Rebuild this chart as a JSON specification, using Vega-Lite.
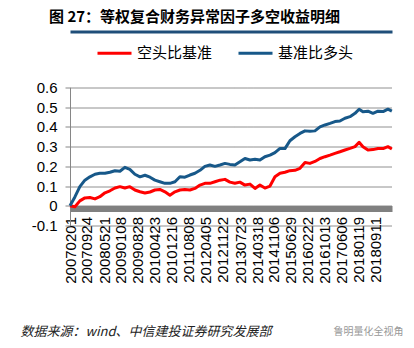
{
  "$schema": "https://vega.github.io/schema/vega-lite/v6.json",
  "width": 322,
  "height": 138,
  "autosize": "none",
  "padding": {"left": 70, "top": 87.5, "right": 22, "bottom": 122.5},
  "background": "white",
  "config": {"view": {"stroke": null}},
  "title": {
    "text": "图 27：等权复合财务异常因子多空收益明细",
    "anchor": "start",
    "frame": "group",
    "dx": -21,
    "offset": 7,
    "font": "Noto Sans CJK SC",
    "fontSize": 15,
    "fontWeight": "bold",
    "color": "#000"
  },
  "data": {
    "values": [
      {"date": "2007-02-01", "空头比基准": 0, "基准比多头": 0},
      {"date": "2007-04-10", "空头比基准": -0.005, "基准比多头": 0.045},
      {"date": "2007-06-18", "空头比基准": 0.025, "基准比多头": 0.097},
      {"date": "2007-08-27", "空头比基准": 0.04, "基准比多头": 0.13},
      {"date": "2007-11-05", "空头比基准": 0.042, "基准比多头": 0.147},
      {"date": "2008-01-14", "空头比基准": 0.035, "基准比多头": 0.16},
      {"date": "2008-03-22", "空头比基准": 0.046, "基准比多头": 0.165},
      {"date": "2008-06-01", "空头比基准": 0.066, "基准比多头": 0.165},
      {"date": "2008-08-09", "空头比基准": 0.076, "基准比多头": 0.17},
      {"date": "2008-10-18", "空头比基准": 0.09, "基准比多头": 0.178},
      {"date": "2008-12-26", "空头比基准": 0.097, "基准比多头": 0.175},
      {"date": "2009-03-05", "空头比基准": 0.09, "基准比多头": 0.195},
      {"date": "2009-05-13", "空头比基准": 0.097, "基准比多头": 0.185},
      {"date": "2009-07-22", "空头比基准": 0.08, "基准比多头": 0.16},
      {"date": "2009-10-01", "空头比基准": 0.071, "基准比多头": 0.147},
      {"date": "2009-12-09", "空头比基准": 0.065, "基准比多头": 0.155},
      {"date": "2010-02-17", "空头比基准": 0.07, "基准比多头": 0.145},
      {"date": "2010-04-26", "空头比基准": 0.08, "基准比多头": 0.13},
      {"date": "2010-07-04", "空头比基准": 0.083, "基准比多头": 0.122},
      {"date": "2010-09-13", "空头比基准": 0.071, "基准比多头": 0.114},
      {"date": "2010-11-21", "空头比基准": 0.054, "基准比多头": 0.114},
      {"date": "2011-01-30", "空头比基准": 0.071, "基准比多头": 0.122},
      {"date": "2011-04-09", "空头比基准": 0.08, "基准比多头": 0.147},
      {"date": "2011-06-17", "空头比基准": 0.083, "基准比多头": 0.145},
      {"date": "2011-08-26", "空头比基准": 0.08, "基准比多头": 0.156},
      {"date": "2011-11-04", "空头比基准": 0.088, "基准比多头": 0.165},
      {"date": "2012-01-13", "空头比基准": 0.105, "基准比多头": 0.18},
      {"date": "2012-03-21", "空头比基准": 0.114, "基准比多头": 0.2},
      {"date": "2012-05-30", "空头比基准": 0.114, "基准比多头": 0.207},
      {"date": "2012-08-08", "空头比基准": 0.122, "基准比多头": 0.2},
      {"date": "2012-10-17", "空头比基准": 0.13, "基准比多头": 0.207},
      {"date": "2012-12-25", "空头比基准": 0.134, "基准比多头": 0.215},
      {"date": "2013-03-04", "空头比基准": 0.12, "基准比多头": 0.21},
      {"date": "2013-05-12", "空头比基准": 0.114, "基准比多头": 0.207},
      {"date": "2013-07-21", "空头比基准": 0.12, "基准比多头": 0.223},
      {"date": "2013-09-29", "空头比基准": 0.105, "基准比多头": 0.24},
      {"date": "2013-12-08", "空头比基准": 0.11, "基准比多头": 0.232},
      {"date": "2014-02-16", "空头比基准": 0.088, "基准比多头": 0.236},
      {"date": "2014-04-25", "空头比基准": 0.105, "基准比多头": 0.232},
      {"date": "2014-07-03", "空头比基准": 0.09, "基准比多头": 0.249},
      {"date": "2014-09-12", "空头比基准": 0.1, "基准比多头": 0.257},
      {"date": "2014-11-20", "空头比基准": 0.147, "基准比多头": 0.27},
      {"date": "2015-01-29", "空头比基准": 0.165, "基准比多头": 0.291},
      {"date": "2015-04-08", "空头比基准": 0.17, "基准比多头": 0.29},
      {"date": "2015-06-16", "空头比基准": 0.178, "基准比多头": 0.33},
      {"date": "2015-08-25", "空头比基准": 0.18, "基准比多头": 0.35},
      {"date": "2015-11-03", "空头比基准": 0.19, "基准比多头": 0.367},
      {"date": "2016-01-12", "空头比基准": 0.22, "基准比多头": 0.38},
      {"date": "2016-03-20", "空头比基准": 0.215, "基准比多头": 0.378},
      {"date": "2016-05-29", "空头比基准": 0.225, "基准比多头": 0.38},
      {"date": "2016-08-07", "空头比基准": 0.24, "基准比多头": 0.4},
      {"date": "2016-10-16", "空头比基准": 0.249, "基准比多头": 0.41},
      {"date": "2016-12-24", "空头比基准": 0.257, "基准比多头": 0.418},
      {"date": "2017-03-03", "空头比基准": 0.266, "基准比多头": 0.427},
      {"date": "2017-05-11", "空头比基准": 0.274, "基准比多头": 0.43},
      {"date": "2017-07-20", "空头比基准": 0.283, "基准比多头": 0.444},
      {"date": "2017-09-28", "空头比基准": 0.291, "基准比多头": 0.452},
      {"date": "2017-12-07", "空头比基准": 0.3, "基准比多头": 0.469},
      {"date": "2018-02-02", "空头比基准": 0.322, "基准比多头": 0.49},
      {"date": "2018-03-27", "空头比基准": 0.3, "基准比多头": 0.477},
      {"date": "2018-06-05", "空头比基准": 0.283, "基准比多头": 0.48},
      {"date": "2018-08-13", "空头比基准": 0.285, "基准比多头": 0.469},
      {"date": "2018-10-22", "空头比基准": 0.291, "基准比多头": 0.48},
      {"date": "2019-01-01", "空头比基准": 0.29, "基准比多头": 0.478},
      {"date": "2019-03-09", "空头比基准": 0.3, "基准比多头": 0.49},
      {"date": "2019-05-03", "空头比基准": 0.288, "基准比多头": 0.48}
    ]
  },
  "layer": [
    {
      "mark": {"type": "line", "strokeWidth": 3, "strokeJoin": "round"},
      "encoding": {
        "x": {
          "field": "date",
          "type": "temporal",
          "scale": {
            "type": "utc",
            "nice": false,
            "domain": [
              {"year": 2007, "month": 2, "date": 1, "utc": true},
              {"year": 2019, "month": 5, "date": 5, "utc": true}
            ]
          },
          "axis": {
            "orient": "bottom",
            "values": [
              {"year": 2007, "month": 2, "date": 1, "utc": true},
              {"year": 2007, "month": 9, "date": 24, "utc": true},
              {"year": 2008, "month": 5, "date": 21, "utc": true},
              {"year": 2009, "month": 1, "date": 8, "utc": true},
              {"year": 2009, "month": 8, "date": 28, "utc": true},
              {"year": 2010, "month": 4, "date": 23, "utc": true},
              {"year": 2010, "month": 12, "date": 16, "utc": true},
              {"year": 2011, "month": 8, "date": 8, "utc": true},
              {"year": 2012, "month": 4, "date": 5, "utc": true},
              {"year": 2012, "month": 11, "date": 22, "utc": true},
              {"year": 2013, "month": 7, "date": 23, "utc": true},
              {"year": 2014, "month": 3, "date": 18, "utc": true},
              {"year": 2014, "month": 11, "date": 6, "utc": true},
              {"year": 2015, "month": 6, "date": 29, "utc": true},
              {"year": 2016, "month": 2, "date": 22, "utc": true},
              {"year": 2016, "month": 10, "date": 13, "utc": true},
              {"year": 2017, "month": 6, "date": 6, "utc": true},
              {"year": 2018, "month": 1, "date": 19, "utc": true},
              {"year": 2018, "month": 9, "date": 11, "utc": true}
            ],
            "format": "%Y%m%d",
            "labelAngle": -90,
            "labelFont": "Liberation Sans",
            "labelFontSize": 15,
            "labelColor": "#000",
            "labelPadding": 8,
            "labelOverlap": false,
            "labelBound": false,
            "labelFlush": false,
            "ticks": false,
            "grid": false,
            "domainColor": "#808080",
            "domainWidth": 6,
            "offset": -17,
            "title": "数据来源：wind、中信建投证券研究发展部",
            "titleFont": "Noto Sans CJK SC",
            "titleFontSize": 13,
            "titleFontStyle": "italic",
            "titleFontWeight": "normal",
            "titleColor": "#222",
            "titleAlign": "left",
            "titleAnchor": "start",
            "titleBaseline": "middle",
            "titleX": -50,
            "titleY": 122.5
          }
        },
        "y": {
          "field": "空头比基准",
          "type": "quantitative",
          "scale": {"domain": [-0.1, 0.6], "nice": false, "zero": false},
          "axis": {
            "values": [-0.1, 0, 0.1, 0.2, 0.3, 0.4, 0.5, 0.6],
            "labelExpr": "toString(round(datum.value*10)/10)",
            "labelFont": "Liberation Sans",
            "labelFontSize": 15,
            "labelColor": "#000",
            "labelPadding": 8,
            "tickColor": "#868686",
            "tickSize": 5,
            "domainColor": "#868686",
            "grid": true,
            "gridColor": "#222",
            "gridDash": [1, 1],
            "gridWidth": 1,
            "title": "鲁明量化全视角",
            "titleAngle": 0,
            "titleX": 263,
            "titleY": 243.5,
            "titleAlign": "left",
            "titleBaseline": "middle",
            "titleFont": "Noto Sans CJK SC",
            "titleFontSize": 10,
            "titleFontWeight": "normal",
            "titleColor": "#999"
          }
        },
        "color": {
          "datum": "空头比基准",
          "type": "nominal",
          "scale": {"domain": ["空头比基准", "基准比多头"], "range": ["#FF0000", "#175889"]},
          "legend": {
            "orient": "none",
            "legendX": 26,
            "legendY": -53,
            "direction": "horizontal",
            "title": null,
            "symbolType": "stroke",
            "symbolSize": 1156,
            "symbolStrokeWidth": 3,
            "labelFont": "Noto Sans CJK SC",
            "labelFontSize": 15,
            "labelColor": "#000",
            "labelOffset": 4,
            "columnPadding": 19
          }
        }
      }
    },
    {
      "mark": {"type": "line", "strokeWidth": 3, "strokeJoin": "round"},
      "encoding": {
        "x": {
          "field": "date",
          "type": "temporal",
          "axis": {
            "orient": "top",
            "labels": false,
            "ticks": false,
            "grid": false,
            "title": null,
            "domainColor": "#1F4E79",
            "domainWidth": 3,
            "offset": 56
          }
        },
        "y": {"field": "基准比多头", "type": "quantitative", "axis": null},
        "color": {"datum": "基准比多头", "type": "nominal"}
      }
    }
  ],
  "resolve": {"axis": {"x": "independent", "y": "independent"}}
}
